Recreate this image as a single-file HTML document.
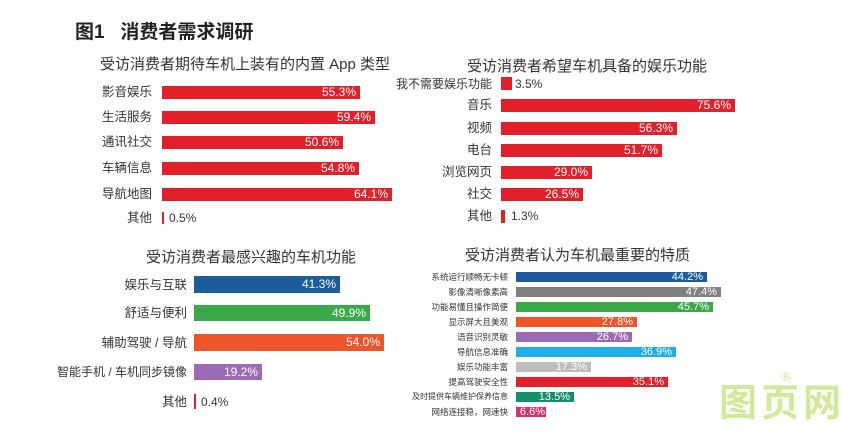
<!DOCTYPE html>
<html><head><meta charset="utf-8"><style>
body{margin:0;width:842px;height:432px;background:#fff;position:relative;overflow:hidden;font-family:"Liberation Sans","Noto Sans CJK SC",sans-serif;color:#333}
.a{position:absolute;white-space:nowrap;line-height:14px}
.b{position:absolute;color:#fff;text-align:right;box-sizing:border-box;padding-right:4px;font-family:"Liberation Sans",sans-serif}
.l{position:absolute;text-align:right;white-space:nowrap;line-height:14px}
.t{position:absolute;white-space:nowrap;font-size:15px;color:#333}
</style></head><body>
<div class="a" style="left:75px;top:23px;font-size:19px;line-height:20px;font-weight:bold;color:#222">图1&nbsp;&nbsp;&nbsp;消费者需求调研</div>

<div class="t" style="left:100px;top:53px">受访消费者期待车机上装有的内置 App 类型</div>
<div class="l" style="right:690px;top:85px;font-size:12.5px">影音娱乐</div>
<div class="b" style="left:162px;top:86px;width:198px;height:13px;background:#e3202a;font-size:12px;line-height:13px">55.3%</div>
<div class="l" style="right:690px;top:110px;font-size:12.5px">生活服务</div>
<div class="b" style="left:162px;top:111px;width:213px;height:13px;background:#e3202a;font-size:12px;line-height:13px">59.4%</div>
<div class="l" style="right:690px;top:135px;font-size:12.5px">通讯社交</div>
<div class="b" style="left:162px;top:136px;width:181px;height:13px;background:#e3202a;font-size:12px;line-height:13px">50.6%</div>
<div class="l" style="right:690px;top:161px;font-size:12.5px">车辆信息</div>
<div class="b" style="left:162px;top:162px;width:197px;height:13px;background:#e3202a;font-size:12px;line-height:13px">54.8%</div>
<div class="l" style="right:690px;top:187px;font-size:12.5px">导航地图</div>
<div class="b" style="left:162px;top:188px;width:230px;height:13px;background:#e3202a;font-size:12px;line-height:13px">64.1%</div>
<div class="l" style="right:690px;top:211px;font-size:12.5px">其他</div>
<div class="b" style="left:162px;top:212px;width:2px;height:12px;background:#e3202a;padding:0"></div>
<div class="a" style="left:169px;top:211px;font-size:12px">0.5%</div>

<div class="t" style="left:467px;top:55px">受访消费者希望车机具备的娱乐功能</div>
<div class="l" style="right:350px;top:77px;font-size:12px">我不需要娱乐功能</div>
<div class="b" style="left:501px;top:77px;width:11px;height:13px;background:#e3202a;padding:0"></div>
<div class="a" style="left:515px;top:77px;font-size:12px">3.5%</div>
<div class="l" style="right:350px;top:98px;font-size:12.5px">音乐</div>
<div class="b" style="left:501px;top:99px;width:234px;height:13px;background:#e3202a;font-size:12px;line-height:13px">75.6%</div>
<div class="l" style="right:350px;top:121px;font-size:12.5px">视频</div>
<div class="b" style="left:501px;top:122px;width:176px;height:13px;background:#e3202a;font-size:12px;line-height:13px">56.3%</div>
<div class="l" style="right:350px;top:143px;font-size:12.5px">电台</div>
<div class="b" style="left:501px;top:144px;width:161px;height:13px;background:#e3202a;font-size:12px;line-height:13px">51.7%</div>
<div class="l" style="right:350px;top:165px;font-size:12.5px">浏览网页</div>
<div class="b" style="left:501px;top:166px;width:91px;height:13px;background:#e3202a;font-size:12px;line-height:13px">29.0%</div>
<div class="l" style="right:350px;top:187px;font-size:12.5px">社交</div>
<div class="b" style="left:501px;top:188px;width:82px;height:13px;background:#e3202a;font-size:12px;line-height:13px">26.5%</div>
<div class="l" style="right:350px;top:209px;font-size:12.5px">其他</div>
<div class="b" style="left:501px;top:210px;width:4px;height:13px;background:#e3202a;padding:0"></div>
<div class="a" style="left:511px;top:209px;font-size:12px">1.3%</div>

<div class="t" style="left:146px;top:246px">受访消费者最感兴趣的车机功能</div>
<div class="l" style="right:655px;top:278px;font-size:12.5px">娱乐与互联</div>
<div class="b" style="left:194px;top:276px;width:146px;height:17px;background:#1d5c9c;font-size:12px;line-height:17px">41.3%</div>
<div class="l" style="right:655px;top:306px;font-size:12.5px">舒适与便利</div>
<div class="b" style="left:194px;top:305px;width:176px;height:16px;background:#3aaa48;font-size:12px;line-height:16px">49.9%</div>
<div class="l" style="right:655px;top:336px;font-size:12.5px">辅助驾驶 / 导航</div>
<div class="b" style="left:194px;top:334px;width:190px;height:17px;background:#f0552a;font-size:12px;line-height:17px">54.0%</div>
<div class="l" style="right:655px;top:365px;font-size:12px">智能手机 / 车机同步镜像</div>
<div class="b" style="left:194px;top:364px;width:68px;height:16px;background:#9b6bb5;font-size:12px;line-height:16px">19.2%</div>
<div class="l" style="right:655px;top:395px;font-size:12.5px">其他</div>
<div class="b" style="left:194px;top:394px;width:2px;height:15px;background:#e3202a;padding:0"></div>
<div class="a" style="left:201px;top:395px;font-size:12px">0.4%</div>

<div class="t" style="left:465px;top:244px">受访消费者认为车机最重要的特质</div>
<div class="l" style="right:334px;top:270px;font-size:8.5px">系统运行顺畅无卡顿</div>
<div class="b" style="left:516px;top:272px;width:191px;height:10px;background:#1d5c9c;font-size:11px;line-height:10px">44.2%</div>
<div class="l" style="right:334px;top:285px;font-size:8.5px">影像清晰像素高</div>
<div class="b" style="left:516px;top:287px;width:205px;height:10px;background:#808080;font-size:11px;line-height:10px">47.4%</div>
<div class="l" style="right:334px;top:300px;font-size:8.5px">功能易懂且操作简便</div>
<div class="b" style="left:516px;top:302px;width:197px;height:10px;background:#3aaa48;font-size:11px;line-height:10px">45.7%</div>
<div class="l" style="right:334px;top:315px;font-size:8.5px">显示屏大且美观</div>
<div class="b" style="left:516px;top:317px;width:121px;height:10px;background:#f0552a;font-size:11px;line-height:10px">27.8%</div>
<div class="l" style="right:334px;top:330px;font-size:8.5px">语音识别灵敏</div>
<div class="b" style="left:516px;top:332px;width:116px;height:10px;background:#9b6bb5;font-size:11px;line-height:10px">26.7%</div>
<div class="l" style="right:334px;top:345px;font-size:8.5px">导航信息准确</div>
<div class="b" style="left:516px;top:347px;width:160px;height:10px;background:#1eaee8;font-size:11px;line-height:10px">36.9%</div>
<div class="l" style="right:334px;top:360px;font-size:8.5px">娱乐功能丰富</div>
<div class="b" style="left:516px;top:362px;width:75px;height:10px;background:#bdbdbd;font-size:11px;line-height:10px">17.3%</div>
<div class="l" style="right:334px;top:375px;font-size:8.5px">提高驾驶安全性</div>
<div class="b" style="left:516px;top:377px;width:152px;height:10px;background:#e3202a;font-size:11px;line-height:10px">35.1%</div>
<div class="l" style="right:334px;top:390px;font-size:8px">及时提供车辆维护保养信息</div>
<div class="b" style="left:516px;top:392px;width:58px;height:10px;background:#13906a;font-size:11px;line-height:10px">13.5%</div>
<div class="l" style="right:334px;top:405px;font-size:8.5px">网络连接稳，网速快</div>
<div class="b" style="left:516px;top:407px;width:30px;height:10px;background:#d6336c;font-size:11px;line-height:10px;padding-right:1px">6.6%</div>

<div class="a" style="left:719px;top:384px;font-size:38px;line-height:40px;font-weight:bold;color:#d2e89a;letter-spacing:4px">图页网</div>
<div class="a" style="left:781px;top:370px;font-size:13px;color:#d2e89a">®</div>
</body></html>
